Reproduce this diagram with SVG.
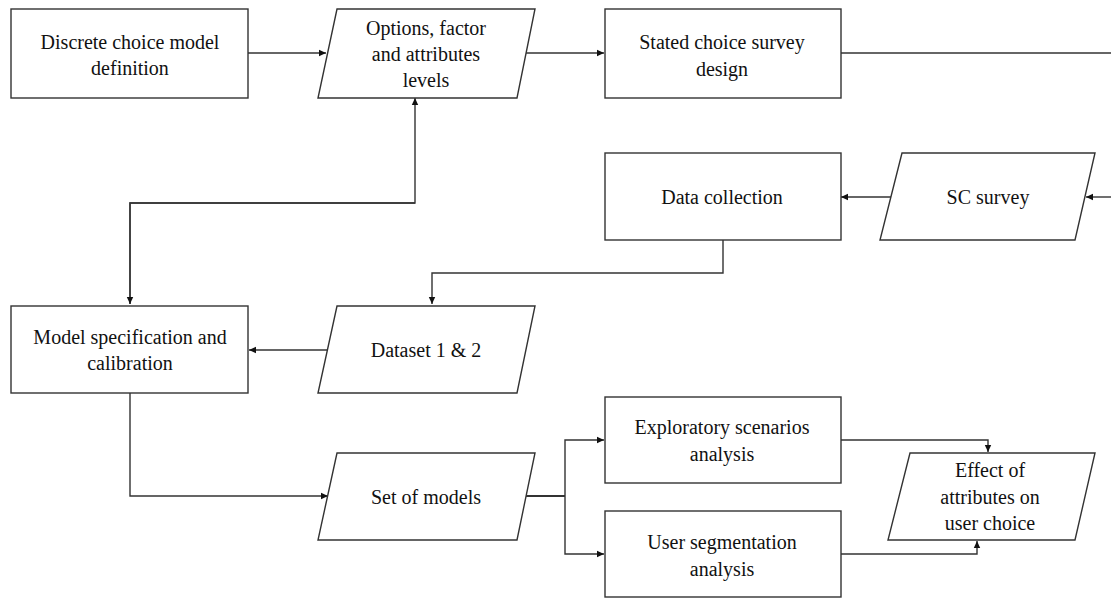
<svg xmlns="http://www.w3.org/2000/svg" width="1111" height="600" viewBox="0 0 1111 600">
<style>
.s{fill:#fff;stroke:#333;stroke-width:1.4}
.t{font-family:'Liberation Serif','Times New Roman',Tinos,'DejaVu Serif',serif;font-size:20px;fill:#111;text-anchor:middle}
.c{fill:none;stroke:#333;stroke-width:1.4}
</style>
<defs>
<marker id="a" markerWidth="8" markerHeight="8" refX="7" refY="4" orient="auto" markerUnits="userSpaceOnUse">
<path d="M0,0.8 L7,4 L0,7.2 Z" fill="#111"/>
</marker>
</defs>
<rect width="1111" height="600" fill="#fff"/>
<g id="connectors">
<path class="c" d="M248,53 H326" marker-end="url(#a)"/>
<path class="c" d="M526,53 H604" marker-end="url(#a)"/>
<path class="c" d="M840,53 H1111"/>
<path class="c" d="M1111,197 H1086" marker-end="url(#a)"/>
<path class="c" d="M891,197 H841" marker-end="url(#a)"/>
<path class="c" d="M723,240 V273 H432 V304" marker-end="url(#a)"/>
<path class="c" d="M328,350 H249" marker-end="url(#a)"/>
<path class="c" d="M130,304 V203 H415 V98" marker-end="url(#a)"/>
<path class="c" d="M415,203 H130 V304" marker-end="url(#a)"/>
<path class="c" d="M130,393 V496 H328" marker-end="url(#a)"/>
<path class="c" d="M525,496 H565" style="stroke-width:2.2"/>
<path class="c" d="M565,496 V440 H604" marker-end="url(#a)"/>
<path class="c" d="M565,496 V554 H604" marker-end="url(#a)"/>
<path class="c" d="M840,440 H988 V452" marker-end="url(#a)"/>
<path class="c" d="M841,554 H977 V541" marker-end="url(#a)"/>
</g>
<g id="n1">
<rect class="s" x="11" y="9" width="237" height="89"/>
<text class="t" x="130" y="49">Discrete choice model</text>
<text class="t" x="130" y="75">definition</text>
</g>
<g id="n2">
<polygon class="s" points="337,9 535,9 517,98 318,98"/>
<text class="t" x="426" y="35">Options, factor</text>
<text class="t" x="426" y="61">and attributes</text>
<text class="t" x="426" y="87">levels</text>
</g>
<g id="n3">
<rect class="s" x="605" y="9" width="236" height="89"/>
<text class="t" x="722" y="49">Stated choice survey</text>
<text class="t" x="722" y="76">design</text>
</g>
<g id="n4">
<rect class="s" x="605" y="153" width="236" height="87"/>
<text class="t" x="722" y="204">Data collection</text>
</g>
<g id="n5">
<polygon class="s" points="902,153 1095,153 1075,240 880,240"/>
<text class="t" x="988" y="204">SC survey</text>
</g>
<g id="n6">
<rect class="s" x="11" y="306" width="237" height="87"/>
<text class="t" x="130" y="344">Model specification and</text>
<text class="t" x="130" y="370">calibration</text>
</g>
<g id="n7">
<polygon class="s" points="337,306 535,306 517,393 318,393"/>
<text class="t" x="426" y="357">Dataset 1 &amp; 2</text>
</g>
<g id="n8">
<polygon class="s" points="337,453 535,453 517,540 318,540"/>
<text class="t" x="426" y="504">Set of models</text>
</g>
<g id="n9">
<rect class="s" x="605" y="397" width="236" height="86"/>
<text class="t" x="722" y="434">Exploratory scenarios</text>
<text class="t" x="722" y="461">analysis</text>
</g>
<g id="n10">
<rect class="s" x="605" y="511" width="236" height="86"/>
<text class="t" x="722" y="549">User segmentation</text>
<text class="t" x="722" y="576">analysis</text>
</g>
<g id="n11">
<polygon class="s" points="910,453 1095,453 1075,540 888,540"/>
<text class="t" x="990" y="477">Effect of</text>
<text class="t" x="990" y="504">attributes on</text>
<text class="t" x="990" y="530">user choice</text>
</g>
</svg>
